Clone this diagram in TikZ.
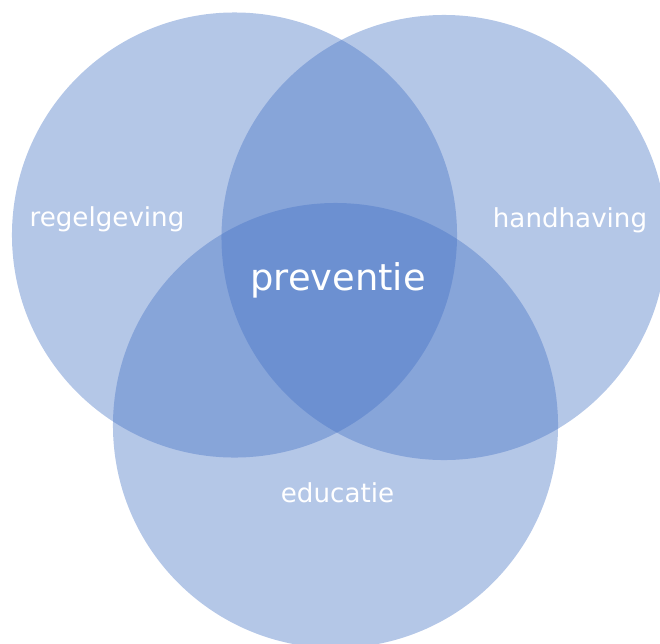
\documentclass[tikz,border=0pt]{standalone}
\usepackage{fontspec}
\setmainfont{DejaVu Sans}
\definecolor{vennblue}{HTML}{4472C4}
\begin{document}
\begin{tikzpicture}[x=0.75pt,y=-0.75pt,
  venn/.style={fill=vennblue,fill opacity=0.4},
  lbl/.style={text=white,anchor=base,inner sep=0pt,font=\fontsize{19.6pt}{23pt}\selectfont},
  biglbl/.style={text=white,anchor=base,inner sep=0pt,font=\fontsize{27.6pt}{32pt}\selectfont}]
\useasboundingbox (0,0) rectangle (660,643);
\clip (0,0) rectangle (660,643);
\fill[venn] (234.5,235) circle[radius=166.9pt];
\fill[venn] (444,237.5) circle[radius=166.9pt];
\fill[venn] (335.5,425.5) circle[radius=166.9pt];
\node[lbl] (reg) at (107,226) {regelgeving};
\node[lbl] (hand) at (570,227.5) {handhaving};
\node[biglbl] (prev) at (338,290) {preventie};
\node[lbl] (edu) at (337.5,502) {educatie};
\end{tikzpicture}
\end{document}
